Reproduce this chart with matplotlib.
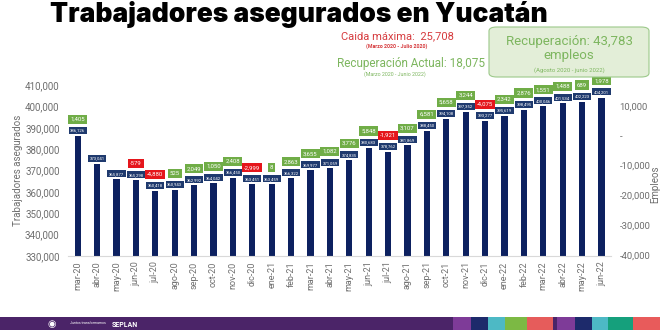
import matplotlib
matplotlib.use("Agg")
import matplotlib.pyplot as plt
from matplotlib.patches import Rectangle, FancyBboxPatch
from matplotlib.ticker import FuncFormatter

months = ['mar-20', 'abr-20', 'may-20', 'jun-20', 'jul-20', 'ago-20', 'sep-20', 'oct-20',
          'nov-20', 'dic-20', 'ene-21', 'feb-21', 'mar-21', 'abr-21', 'may-21', 'jun-21',
          'jul-21', 'ago-21', 'sep-21', 'oct-21', 'nov-21', 'dic-21', 'ene-22', 'feb-22',
          'mar-22', 'abr-22', 'may-22', 'jun-22']
workers = [386126, 373041, 365877, 365298, 360418, 360943, 362992, 364042,
           366450, 363451, 363459, 366322, 369977, 371059, 374835, 380683,
           378762, 381869, 388450, 394108, 397352, 393277, 395619, 398495,
           400046, 401534, 402223, 404201]
# monthly change labels (None = no label in the original)
changes = [1405, None, None, -579, -4880, 525, 2049, 1050,
           2408, -2999, 8, 2863, 3655, 1082, 3776, 5848,
           -1921, 3107, 6581, 5658, 3244, -4075, 2342, 2876,
           1551, 1488, 689, 1978]

navy = '#0d2160'
green = '#70ad47'
red = '#e5161c'
gray = '#6e6e6e'
plt.rcParams['font.family'] = ['Roboto', 'DejaVu Sans']

fig = plt.figure(figsize=(6.6, 3.3), dpi=100)
ax = fig.add_axes([0.103, 0.225, 0.823, 0.517])
x = list(range(len(months)))
ax.bar(x, workers, width=0.32, color=navy)
ax.set_xlim(-0.5, len(months) - 0.5)
ax.set_ylim(330000, 410000)
ax.set_yticks(range(330000, 410001, 10000))
ax.yaxis.set_major_formatter(FuncFormatter(lambda v, p: f'{int(v):,}'))
ax.set_xticks(x)
ax.set_xticklabels(months, rotation=90, fontsize=6.5, color=gray)
ax.tick_params(axis='y', length=0, labelsize=7, labelcolor=gray, pad=6)
ax.tick_params(axis='x', length=0, pad=4)
for s in ['top', 'left', 'right']:
    ax.spines[s].set_visible(False)
ax.spines['bottom'].set_color('#d9d9d9')
ax.set_ylabel('Trabajadores asegurados', fontsize=7, color=gray)
ax.yaxis.set_label_coords(-0.083, 0.5)

ax2 = ax.twinx()
ax2.set_ylim(-40200, 17000)
ax2.set_yticks(range(-40000, 10001, 10000))
ax2.yaxis.set_major_formatter(FuncFormatter(lambda v, p: '-' if v == 0 else f'{int(v):,}'))
ax2.tick_params(axis='y', length=0, labelsize=6.8, labelcolor=gray, pad=6)
for s in ['top', 'left', 'right', 'bottom']:
    ax2.spines[s].set_visible(False)
ax2.set_ylabel('Empleos', fontsize=7, color=gray)
ax2.yaxis.set_label_coords(1.072, 0.42)

for i, v in enumerate(workers):
    ax.annotate(f'{v:,}', (i, v), xytext=(0, 4), textcoords='offset points',
                ha='center', va='center', fontsize=3.1, color='white', clip_on=False,
                bbox=dict(boxstyle='square,pad=0.35', fc='#1f3a6e', ec='none'))
    c = changes[i]
    if c is not None:
        ax.annotate(f'{c:,}', (i, v), xytext=(0, 12), textcoords='offset points',
                    ha='center', va='center', fontsize=4.3, color='white', clip_on=False,
                    bbox=dict(boxstyle='square,pad=0.35', fc=green if c >= 0 else red, ec='none'))

# title and notes
fig.text(50 / 660, 1 - 22 / 330, 'Trabajadores asegurados en Yucatán', fontsize=19,
         fontweight='black', family=['Inter', 'DejaVu Sans'], color='black', va='baseline')
fig.text(397 / 660, 1 - 36 / 330, 'Caida máxima:  25,708', fontsize=8, color='#d63b3e',
         ha='center', va='center')
fig.text(397 / 660, 1 - 46 / 330, '(Marzo 2020 - Julio 2020)', fontsize=3.8, color='#d63b3e',
         ha='center', va='center', fontweight='bold')
fig.text(411 / 660, 1 - 64 / 330, 'Recuperación Actual: 18,075', fontsize=8.5, color='#7db65f',
         ha='center', va='center')
fig.text(395 / 660, 1 - 74 / 330, '(Marzo 2020 - Junio 2022)', fontsize=3.8, color='#7db65f',
         ha='center', va='center')

box = FancyBboxPatch((489 / 660, 1 - 77 / 330), 160 / 660, 50 / 330,
                     boxstyle='round,pad=0,rounding_size=0.012', transform=fig.transFigure,
                     fc='#e3eed8', ec='#9cc98a', lw=0.8)
fig.patches.append(box)
fig.text(569 / 660, 1 - 41 / 330, 'Recuperación: 43,783', fontsize=9.5, color='#7db65f',
         ha='center', va='center')
fig.text(569 / 660, 1 - 56 / 330, 'empleos', fontsize=9.5, color='#7db65f',
         ha='center', va='center')
fig.text(569 / 660, 1 - 70 / 330, '(Agosto 2020 - junio 2022)', fontsize=4.3, color='#7db65f',
         ha='center', va='center')

# footer band
fig.patches.append(Rectangle((0, 0), 1, 13 / 330, transform=fig.transFigure,
                             fc='#4b2468', ec='none'))
blocks = [(453, 471, '#7e3b98'), (471, 488, '#1d2a6b'), (488, 505, '#4db9c5'),
          (505, 527, '#7cb944'), (527, 553, '#e65c5b'), (557, 575, '#7e3b98'),
          (575, 592, '#1d2a6b'), (592, 608, '#4db9c5'), (608, 633, '#15a07c'),
          (633, 660, '#e85b5b')]
for x0, x1, col in blocks:
    fig.patches.append(Rectangle((x0 / 660, 0), (x1 - x0) / 660, 13 / 330,
                                 transform=fig.transFigure, fc=col, ec='none'))
fig.text(52 / 660, 6 / 330, '◉', fontsize=7, color='white', ha='center', va='center')
fig.text(70 / 660, 7 / 330, 'Juntos transformamos', fontsize=2.5, color='white', va='center')
fig.text(112 / 660, 5 / 330, 'SEPLAN', fontsize=5, color='white', va='center', fontweight='bold')

fig.savefig('out.png', dpi=100)
